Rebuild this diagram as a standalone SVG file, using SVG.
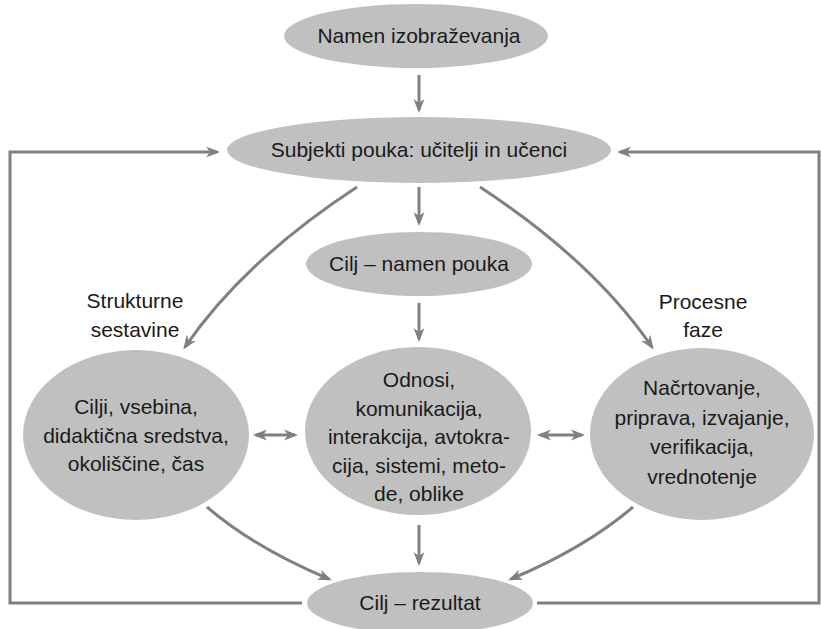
<svg xmlns="http://www.w3.org/2000/svg" width="821" height="629" viewBox="0 0 821 629">
<style>
.node ellipse{fill:#c0c0c0;stroke:none}
text{font-family:"Liberation Sans",Arial,sans-serif;font-size:21px;fill:#1a1a1a;text-anchor:middle}
.edge{fill:none;stroke:#808080;stroke-width:3}
</style>
<defs>
<marker id="ah" viewBox="0 0 14 12" refX="11" refY="6" markerWidth="14" markerHeight="12" markerUnits="userSpaceOnUse" orient="auto-start-reverse">
<path d="M0,0.5 L14,6 L0,11.5 L4,6 Z" fill="#808080"/>
</marker>
</defs>
<rect width="821" height="629" fill="#ffffff"/>
<g id="connectors">
<path class="edge" d="M419,75 V110" marker-end="url(#ah)"/>
<path class="edge" d="M419,187 V223" marker-end="url(#ah)"/>
<path class="edge" d="M419,303 V339" marker-end="url(#ah)"/>
<path class="edge" d="M419,525 V563" marker-end="url(#ah)"/>
<path class="edge" d="M302,603 H10 V152 H217" marker-end="url(#ah)"/>
<path class="edge" d="M537,603 H819 V152 H620" marker-end="url(#ah)"/>
<path class="edge" d="M256,435 H295" marker-start="url(#ah)" marker-end="url(#ah)"/>
<path class="edge" d="M540,435 H582" marker-start="url(#ah)" marker-end="url(#ah)"/>
<path class="edge" d="M357,187 Q244,261 185,347" marker-end="url(#ah)"/>
<path class="edge" d="M480,187 Q593,261 652,347" marker-end="url(#ah)"/>
<path class="edge" d="M207,507 Q255,548 329,579" marker-end="url(#ah)"/>
<path class="edge" d="M633,507 Q585,548 511,579" marker-end="url(#ah)"/>
</g>
<g id="n-namen" class="node">
<ellipse cx="416" cy="36" rx="132" ry="32"/>
<text x="419" y="43">Namen izobraževanja</text>
</g>
<g id="n-subjekti" class="node">
<ellipse cx="419" cy="150" rx="192" ry="33"/>
<text x="419" y="157">Subjekti pouka: učitelji in učenci</text>
</g>
<g id="n-cilj-namen" class="node">
<ellipse cx="419" cy="264" rx="113" ry="32"/>
<text x="419" y="271">Cilj – namen pouka</text>
</g>
<g id="n-odnosi" class="node">
<ellipse cx="418" cy="431" rx="113" ry="84"/>
<text x="419" y="387">Odnosi,</text>
<text x="419" y="415.5">komunikacija,</text>
<text x="419" y="444">interakcija, avtokra-</text>
<text x="419" y="472.5">cija, sistemi, meto-</text>
<text x="419" y="501">de, oblike</text>
</g>
<g id="n-strukturne" class="node">
<ellipse cx="136" cy="435" rx="113" ry="85"/>
<text x="136" y="414">Cilji, vsebina,</text>
<text x="136" y="442.5">didaktična sredstva,</text>
<text x="136" y="471">okoliščine, čas</text>
</g>
<g id="n-procesne" class="node">
<ellipse cx="702" cy="434" rx="112" ry="86"/>
<text x="702" y="395">Načrtovanje,</text>
<text x="702" y="424.5">priprava, izvajanje,</text>
<text x="702" y="454">verifikacija,</text>
<text x="702" y="483.5">vrednotenje</text>
</g>
<g id="n-rezultat" class="node">
<ellipse cx="420" cy="603" rx="113" ry="31"/>
<text x="420" y="610">Cilj – rezultat</text>
</g>
<g id="labels">
<text x="135" y="308">Strukturne</text>
<text x="135" y="337">sestavine</text>
<text x="703" y="309">Procesne</text>
<text x="703" y="337">faze</text>
</g>
</svg>
